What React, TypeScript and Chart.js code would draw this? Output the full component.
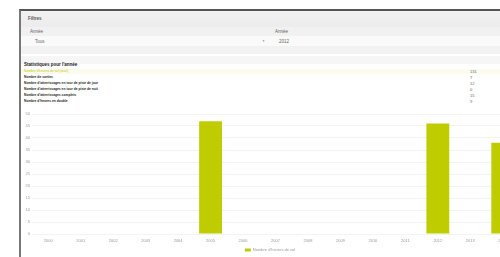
import React, { useEffect, useRef } from "react";
import { Chart, registerables } from "chart.js";

Chart.register(...registerables);

const categories = ["2000", "2001", "2002", "2003", "2004", "2005", "2006", "2007", "2008", "2009", "2010", "2011", "2012", "2013", "2014"];
const seriesLabel = "Nombre d'heures de vol";
const seriesValues = [0, 0, 0, 0, 0, 47, 0, 0, 0, 0, 0, 0, 46, 0, 38];
const yMin = 0;
const yMax = 50;
const yStep = 5;

const statLabels = [
  "Nombre d'heures de vol (total)",
  "Nombre de sorties",
  "Nombre d'atterrissages en tour de piste de jour",
  "Nombre d'atterrissages en tour de piste de nuit",
  "Nombre d'atterrissages complets",
  "Nombre d'heures en double",
];
const statValues = ["131", "7", "12", "0", "15", "9"];

const BAR = "#bfcc00";
const FONT = "'Liberation Sans', Arial, sans-serif";

function BarChart() {
  const ref = useRef<HTMLCanvasElement | null>(null);
  useEffect(() => {
    if (!ref.current) return;
    const chart = new Chart(ref.current, {
      type: "bar",
      data: {
        labels: categories,
        datasets: [
          {
            label: seriesLabel,
            data: seriesValues,
            backgroundColor: BAR,
            borderWidth: 0,
            categoryPercentage: 0.8,
            barPercentage: 0.88,
          },
        ],
      },
      options: {
        responsive: false,
        animation: false,
        maintainAspectRatio: false,
        layout: { padding: { top: 8, right: 2, left: 0, bottom: 0 } },
        plugins: {
          tooltip: { enabled: false },
          legend: {
            position: "bottom",
            labels: {
              font: { size: 4, family: FONT },
              color: "#999",
              boxWidth: 6,
              boxHeight: 3,
              padding: 3,
            },
          },
        },
        scales: {
          x: {
            grid: { display: false, drawTicks: false },
            border: { display: false },
            ticks: { font: { size: 4, family: FONT }, color: "#999", padding: 4, maxRotation: 0, autoSkip: false },
            afterFit: (s: any) => {
              s.height = 11;
            },
          },
          y: {
            min: yMin,
            max: yMax,
            grid: { color: "#f3f3f3", drawTicks: false },
            border: { display: false },
            ticks: { stepSize: yStep, font: { size: 4, family: FONT }, color: "#999", padding: 2 },
            afterFit: (s: any) => {
              s.width = 11;
            },
          },
        },
      },
    });
    return () => chart.destroy();
  }, []);
  return (
    <canvas
      ref={ref}
      width={500}
      height={156}
      style={{ position: "absolute", left: 21, top: 106, width: 500, height: 156 }}
    />
  );
}

const txt = (extra: React.CSSProperties): React.CSSProperties => ({
  position: "absolute",
  fontSize: 4.5,
  lineHeight: "5px",
  whiteSpace: "nowrap",
  color: "#333",
  ...extra,
});

export default function App() {
  const rowTops = [69, 75, 81, 87, 93, 99];
  return (
    <div
      style={{
        position: "fixed",
        left: 0,
        top: 0,
        width: 500,
        height: 257,
        overflow: "hidden",
        background: "#fff",
        fontFamily: FONT,
      }}
    >
      <div
        style={{
          position: "absolute",
          left: 19,
          top: 9,
          width: 520,
          height: 260,
          borderTop: "2px solid #555",
          borderLeft: "2px solid #777",
          boxSizing: "border-box",
        }}
      />
      {/* filter panel bands */}
      <div style={{ position: "absolute", left: 21, top: 11, width: 500, height: 16, background: "linear-gradient(#f2f2f2,#ececec)" }} />
      <div style={{ position: "absolute", left: 21, top: 27, width: 500, height: 9, background: "#f1f1f1" }} />
      <div style={{ position: "absolute", left: 21, top: 36, width: 500, height: 10, background: "#fafafa" }} />
      <div style={{ position: "absolute", left: 21, top: 46, width: 500, height: 8, background: "#f2f2f2" }} />
      <div style={{ position: "absolute", left: 21, top: 56, width: 500, height: 8, background: "#f6f6f6" }} />
      <span style={txt({ left: 28, top: 16, fontWeight: "bold", color: "#555" })}>Filtres</span>
      <span style={txt({ left: 30, top: 29, color: "#666" })}>Année</span>
      <span style={txt({ left: 35, top: 39, color: "#666" })}>Tous</span>
      <span style={txt({ left: 275, top: 29, color: "#666" })}>Année</span>
      <span style={txt({ left: 262, top: 39, color: "#888", fontSize: 3 })}>▼</span>
      <span style={txt({ left: 279, top: 39, color: "#666" })}>2012</span>
      {/* stats */}
      <span style={txt({ left: 24, top: 62, fontWeight: "bold", color: "#222" })}>Statistiques pour l'année</span>
      <div style={{ position: "absolute", left: 21, top: 69, width: 500, height: 5, background: "#fbfbee" }} />
      {statLabels.map((l, i) => (
        <React.Fragment key={l}>
          <span
            style={txt({
              left: 24,
              top: rowTops[i],
              fontSize: 3.3,
              fontWeight: i === 0 ? "normal" : "bold",
              color: i === 0 ? "#c8c800" : "#222",
            })}
          >
            {l}
          </span>
          <span style={txt({ left: 470, top: rowTops[i], fontSize: 4, color: "#666" })}>{statValues[i]}</span>
        </React.Fragment>
      ))}
      <BarChart />
    </div>
  );
}
